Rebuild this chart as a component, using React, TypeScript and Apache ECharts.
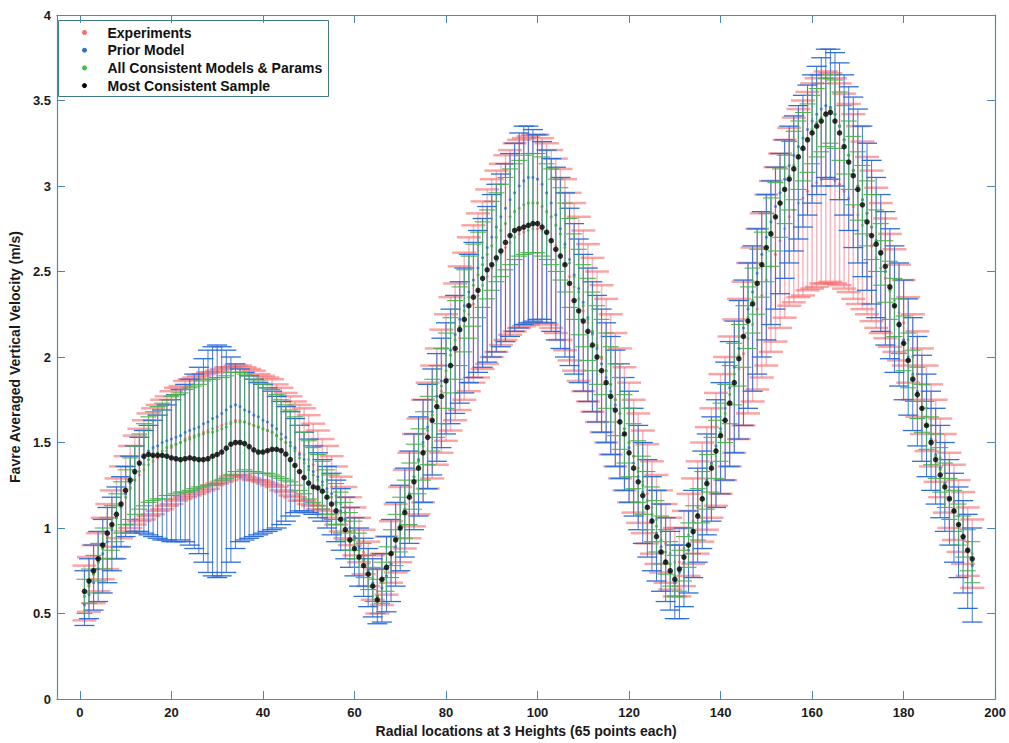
import React, { useEffect, useRef } from 'react';
import * as echarts from 'echarts';

// x positions are 1..195 (3 heights x 65 radial points)
const bestSample = [
  0.63,0.69,0.75,0.82,0.90,0.97,1.02,1.08,1.14,1.22,1.28,1.33,1.38,1.42,1.43,1.425,1.425,1.425,1.42,1.41,
  1.405,1.40,1.405,1.41,1.405,1.40,1.40,1.405,1.42,1.43,1.444,1.467,1.49,1.50,1.50,1.494,1.476,1.457,1.444,1.444,
  1.452,1.46,1.46,1.452,1.432,1.40,1.366,1.33,1.295,1.263,1.24,1.234,1.215,1.18,1.14,1.10,1.05,0.99,0.93,0.88,
  0.83,0.78,0.73,0.66,0.58,
  0.70,0.77,0.85,0.93,1.00,1.09,1.18,1.27,1.35,1.44,1.53,1.63,1.71,1.77,1.86,1.95,2.05,2.16,2.22,2.30,
  2.35,2.39,2.46,2.51,2.54,2.58,2.62,2.67,2.71,2.74,2.75,2.76,2.77,2.78,2.78,2.76,2.73,2.68,2.63,2.59,
  2.54,2.43,2.33,2.27,2.21,2.15,2.07,2.00,1.92,1.85,1.77,1.69,1.62,1.55,1.44,1.35,1.27,1.19,1.12,1.04,
  0.95,0.86,0.80,0.75,0.70,
  0.76,0.83,0.90,0.98,1.07,1.17,1.26,1.35,1.45,1.54,1.63,1.73,1.85,1.99,2.12,2.21,2.31,2.43,2.54,2.64,
  2.72,2.82,2.90,2.98,3.04,3.10,3.17,3.22,3.27,3.31,3.35,3.38,3.42,3.43,3.38,3.31,3.23,3.14,3.06,2.98,
  2.89,2.79,2.71,2.66,2.61,2.53,2.41,2.30,2.19,2.08,1.98,1.87,1.78,1.70,1.60,1.50,1.40,1.31,1.24,1.17,
  1.10,1.02,0.95,0.87,0.82,
];

const expMean = [
  0.62,0.67,0.73,0.80,0.88,0.95,1.02,1.09,1.15,1.20,1.24,1.28,1.31,1.34,1.37,1.39,1.41,1.43,1.45,1.47,
  1.49,1.50,1.52,1.53,1.54,1.55,1.56,1.57,1.58,1.59,1.60,1.61,1.62,1.63,1.63,1.62,1.61,1.60,1.59,1.58,
  1.57,1.56,1.54,1.52,1.50,1.48,1.46,1.44,1.43,1.40,1.37,1.34,1.31,1.28,1.24,1.19,1.14,1.09,1.04,0.98,
  0.93,0.86,0.79,0.71,0.63,
  0.70,0.78,0.86,0.94,1.02,1.11,1.19,1.28,1.36,1.45,1.54,1.62,1.71,1.80,1.88,1.96,2.03,2.11,2.18,2.25,
  2.31,2.36,2.42,2.47,2.52,2.56,2.60,2.64,2.67,2.70,2.72,2.73,2.74,2.75,2.75,2.74,2.72,2.69,2.65,2.60,
  2.54,2.47,2.41,2.34,2.27,2.20,2.13,2.06,1.99,1.92,1.84,1.75,1.67,1.58,1.50,1.42,1.35,1.27,1.20,1.12,
  1.05,0.98,0.91,0.85,0.80,
  0.80,0.88,0.96,1.04,1.12,1.21,1.29,1.38,1.46,1.55,1.64,1.74,1.83,1.93,2.02,2.11,2.19,2.28,2.36,2.45,
  2.53,2.60,2.68,2.75,2.82,2.86,2.90,2.93,2.97,3.00,3.02,3.04,3.05,3.05,3.03,3.01,2.97,2.93,2.88,2.83,
  2.77,2.71,2.65,2.58,2.52,2.46,2.39,2.33,2.26,2.20,2.10,2.00,1.90,1.80,1.70,1.60,1.51,1.41,1.32,1.22,
  1.15,1.07,1.00,0.92,0.85,
];

const expErr = [
  0.16,0.16,0.17,0.17,0.18,0.19,0.20,0.20,0.21,0.22,0.24,0.26,0.27,0.29,0.30,0.31,0.31,0.32,0.32,0.33,
  0.33,0.33,0.34,0.34,0.34,0.34,0.34,0.34,0.33,0.33,0.33,0.33,0.32,0.32,0.32,0.32,0.32,0.32,0.31,0.31,
  0.31,0.31,0.30,0.30,0.29,0.29,0.28,0.28,0.27,0.26,0.24,0.23,0.21,0.20,0.18,0.17,0.16,0.15,0.14,0.14,
  0.13,0.13,0.13,0.13,0.13,
  0.15,0.17,0.18,0.20,0.22,0.23,0.25,0.27,0.28,0.30,0.31,0.33,0.34,0.36,0.37,0.39,0.40,0.42,0.43,0.45,
  0.46,0.48,0.49,0.51,0.52,0.53,0.53,0.54,0.54,0.55,0.55,0.55,0.55,0.55,0.55,0.54,0.53,0.52,0.51,0.50,
  0.50,0.49,0.49,0.48,0.47,0.46,0.45,0.44,0.43,0.42,0.41,0.39,0.38,0.36,0.35,0.33,0.32,0.30,0.29,0.27,
  0.26,0.24,0.23,0.21,0.20,
  0.20,0.22,0.24,0.25,0.27,0.29,0.30,0.32,0.33,0.35,0.36,0.38,0.39,0.41,0.42,0.44,0.45,0.47,0.48,0.50,
  0.50,0.51,0.51,0.52,0.52,0.54,0.55,0.57,0.58,0.60,0.61,0.61,0.62,0.61,0.60,0.59,0.57,0.55,0.54,0.52,
  0.49,0.46,0.44,0.41,0.38,0.35,0.33,0.30,0.28,0.25,0.25,0.25,0.25,0.25,0.25,0.24,0.24,0.23,0.23,0.22,
  0.22,0.21,0.21,0.20,0.20,
];

const priorMean = [
  0.55,0.61,0.68,0.76,0.85,0.92,0.99,1.06,1.13,1.20,1.26,1.32,1.37,1.41,1.45,1.47,1.48,1.50,1.51,1.52,
  1.53,1.54,1.56,1.57,1.58,1.59,1.61,1.62,1.64,1.65,1.67,1.69,1.71,1.72,1.71,1.69,1.68,1.66,1.65,1.63,
  1.62,1.60,1.58,1.55,1.53,1.50,1.47,1.43,1.40,1.36,1.33,1.30,1.27,1.23,1.20,1.15,1.10,1.05,1.00,0.95,
  0.89,0.82,0.75,0.68,0.60,
  0.65,0.72,0.79,0.89,1.00,1.10,1.20,1.30,1.40,1.50,1.59,1.68,1.77,1.86,1.95,2.04,2.13,2.22,2.30,2.38,
  2.45,2.52,2.58,2.64,2.70,2.76,2.82,2.87,2.92,2.96,3.00,3.03,3.05,3.05,3.04,3.01,2.96,2.90,2.83,2.75,
  2.66,2.57,2.48,2.40,2.32,2.23,2.14,2.05,1.96,1.88,1.80,1.72,1.63,1.55,1.47,1.38,1.30,1.21,1.13,1.05,
  0.97,0.89,0.81,0.74,0.68,
  0.74,0.80,0.87,0.97,1.08,1.18,1.28,1.38,1.48,1.58,1.70,1.82,1.94,2.05,2.17,2.28,2.38,2.49,2.60,2.70,
  2.79,2.88,2.96,3.04,3.12,3.18,3.23,3.28,3.33,3.38,3.42,3.45,3.47,3.46,3.42,3.35,3.27,3.18,3.09,3.00,
  2.92,2.84,2.76,2.68,2.60,2.50,2.40,2.30,2.20,2.10,2.00,1.90,1.80,1.70,1.60,1.52,1.43,1.35,1.26,1.18,
  1.10,1.02,0.94,0.86,0.78,
];

const priorLow = [
  0.43,0.47,0.52,0.57,0.62,0.68,0.75,0.82,0.89,0.95,0.97,0.98,0.98,0.97,0.96,0.95,0.94,0.93,0.93,0.92,
  0.92,0.93,0.92,0.90,0.88,0.85,0.80,0.74,0.72,0.71,0.72,0.74,0.80,0.88,0.92,0.93,0.94,0.95,0.96,0.97,
  0.98,0.99,1.00,1.02,1.04,1.07,1.09,1.10,1.10,1.09,1.08,1.06,1.04,1.00,0.96,0.92,0.87,0.82,0.77,0.72,
  0.66,0.60,0.54,0.48,0.44,
  0.45,0.51,0.57,0.66,0.75,0.83,0.91,0.99,1.07,1.15,1.23,1.31,1.39,1.47,1.55,1.61,1.67,1.73,1.79,1.85,
  1.88,1.91,1.94,1.97,2.00,2.03,2.06,2.09,2.12,2.15,2.17,2.19,2.20,2.21,2.22,2.22,2.20,2.15,2.10,2.05,
  2.00,1.95,1.90,1.85,1.80,1.74,1.68,1.62,1.56,1.50,1.43,1.36,1.29,1.22,1.15,1.07,0.99,0.91,0.83,0.75,
  0.69,0.63,0.57,0.52,0.47,
  0.47,0.54,0.62,0.71,0.80,0.88,0.96,1.04,1.12,1.20,1.28,1.36,1.44,1.52,1.60,1.70,1.80,1.90,2.00,2.10,
  2.19,2.28,2.37,2.46,2.55,2.62,2.69,2.76,2.83,2.90,2.95,3.00,3.05,3.04,3.00,2.92,2.83,2.74,2.64,2.55,
  2.47,2.39,2.31,2.23,2.15,2.07,1.99,1.91,1.83,1.75,1.66,1.57,1.48,1.39,1.30,1.22,1.14,1.06,0.98,0.90,
  0.80,0.71,0.62,0.53,0.45,
];

const priorHigh = [
  0.75,0.82,0.90,0.98,1.05,1.12,1.18,1.24,1.30,1.36,1.42,1.48,1.53,1.57,1.60,1.63,1.66,1.69,1.72,1.75,
  1.78,1.81,1.84,1.87,1.90,1.94,1.99,2.04,2.06,2.07,2.06,2.04,2.00,1.96,1.93,1.91,1.89,1.87,1.85,1.84,
  1.82,1.80,1.77,1.74,1.71,1.68,1.64,1.60,1.56,1.52,1.48,1.44,1.40,1.36,1.32,1.28,1.23,1.18,1.12,1.06,
  1.00,0.94,0.88,0.82,0.76,
  0.85,0.95,1.05,1.15,1.25,1.35,1.45,1.55,1.65,1.75,1.84,1.93,2.02,2.11,2.20,2.28,2.36,2.44,2.52,2.60,
  2.67,2.74,2.81,2.88,2.95,3.01,3.07,3.13,3.19,3.25,3.31,3.35,3.35,3.33,3.30,3.26,3.21,3.16,3.11,3.05,
  2.96,2.87,2.78,2.69,2.60,2.52,2.44,2.36,2.28,2.20,2.12,2.04,1.96,1.88,1.80,1.70,1.60,1.50,1.40,1.30,
  1.22,1.14,1.06,0.98,0.90,
  0.90,1.00,1.10,1.22,1.35,1.45,1.55,1.65,1.75,1.85,1.97,2.09,2.21,2.33,2.45,2.55,2.65,2.75,2.85,2.95,
  3.03,3.11,3.19,3.27,3.35,3.41,3.47,3.53,3.59,3.65,3.70,3.75,3.80,3.80,3.78,3.72,3.65,3.58,3.52,3.45,
  3.35,3.25,3.15,3.05,2.95,2.85,2.75,2.65,2.55,2.45,2.34,2.23,2.12,2.01,1.90,1.80,1.70,1.60,1.50,1.40,
  1.32,1.24,1.16,1.08,1.00,
];

const consMean = [
  0.60,0.66,0.73,0.80,0.88,0.94,1.00,1.06,1.12,1.18,1.23,1.28,1.33,1.37,1.40,1.42,1.44,1.45,1.47,1.48,
  1.49,1.50,1.51,1.52,1.53,1.54,1.55,1.56,1.56,1.57,1.58,1.59,1.61,1.62,1.62,1.62,1.61,1.60,1.59,1.58,
  1.57,1.56,1.54,1.52,1.50,1.48,1.45,1.41,1.38,1.34,1.31,1.28,1.25,1.21,1.18,1.14,1.09,1.04,0.98,0.93,
  0.87,0.81,0.74,0.67,0.60,
  0.68,0.76,0.85,0.93,1.02,1.11,1.20,1.30,1.39,1.48,1.57,1.66,1.74,1.83,1.92,2.01,2.10,2.18,2.27,2.35,
  2.42,2.48,2.54,2.60,2.65,2.70,2.74,2.78,2.82,2.85,2.87,2.89,2.90,2.90,2.90,2.88,2.85,2.82,2.77,2.72,
  2.64,2.55,2.47,2.38,2.30,2.22,2.15,2.07,2.00,1.92,1.84,1.75,1.67,1.58,1.50,1.42,1.33,1.25,1.16,1.08,
  1.01,0.93,0.86,0.79,0.72,
  0.75,0.82,0.90,0.99,1.08,1.18,1.27,1.37,1.46,1.56,1.67,1.78,1.90,2.01,2.12,2.23,2.33,2.44,2.54,2.64,
  2.73,2.82,2.90,2.98,3.06,3.12,3.18,3.23,3.28,3.33,3.37,3.40,3.43,3.45,3.42,3.35,3.27,3.18,3.09,3.00,
  2.92,2.84,2.76,2.68,2.60,2.50,2.39,2.29,2.18,2.08,1.98,1.89,1.79,1.70,1.60,1.51,1.42,1.34,1.25,1.17,
  1.10,1.02,0.95,0.87,0.80,
];

const consErr = [
  0.10,0.10,0.11,0.11,0.12,0.12,0.13,0.14,0.15,0.16,0.18,0.20,0.22,0.24,0.25,0.26,0.27,0.28,0.28,0.29,
  0.29,0.29,0.30,0.30,0.30,0.30,0.31,0.31,0.31,0.31,0.30,0.30,0.30,0.29,0.29,0.28,0.28,0.27,0.27,0.26,
  0.25,0.25,0.24,0.23,0.22,0.21,0.20,0.19,0.18,0.17,0.16,0.15,0.14,0.13,0.13,0.12,0.12,0.11,0.11,0.11,
  0.10,0.10,0.10,0.10,0.10,
  0.12,0.13,0.14,0.15,0.16,0.17,0.18,0.19,0.19,0.20,0.20,0.21,0.21,0.22,0.22,0.22,0.23,0.23,0.24,0.24,
  0.24,0.25,0.25,0.26,0.26,0.26,0.27,0.27,0.28,0.28,0.28,0.29,0.29,0.29,0.29,0.29,0.28,0.28,0.27,0.27,
  0.26,0.26,0.25,0.25,0.24,0.24,0.23,0.23,0.22,0.22,0.22,0.21,0.21,0.20,0.20,0.19,0.18,0.17,0.17,0.16,
  0.15,0.14,0.13,0.13,0.12,
  0.12,0.13,0.13,0.14,0.15,0.15,0.16,0.16,0.17,0.17,0.17,0.17,0.18,0.18,0.18,0.18,0.19,0.19,0.19,0.20,
  0.20,0.20,0.20,0.20,0.20,0.20,0.20,0.20,0.20,0.20,0.20,0.20,0.20,0.20,0.20,0.20,0.20,0.20,0.20,0.20,
  0.20,0.19,0.19,0.18,0.18,0.18,0.17,0.17,0.16,0.16,0.16,0.15,0.15,0.14,0.14,0.14,0.13,0.13,0.13,0.12,
  0.12,0.12,0.12,0.12,0.12,
];

const xTicks = [0, 20, 40, 60, 80, 100, 120, 140, 160, 180, 200];
const legendNames = ['Experiments', 'Prior Model', 'All Consistent Models & Params', 'Most Consistent Sample'];
const legendColors = ['#ff6a6a', '#2f6fd6', '#3fbf4a', '#000000'];

const FONT = '"Liberation Sans", Arial, Helvetica, sans-serif';
const FRAME = '#5b8c98';
const TICK = '#4a86b8';

function barRenderer(vColor: string, capColor: string, half: number, lw: number, capLw: number) {
  return (params: any, api: any) => {
    const x = api.value(0);
    const lo = api.coord([x, api.value(1)]);
    const hi = api.coord([x, api.value(2)]);
    return {
      type: 'group',
      children: [
        { type: 'line', shape: { x1: lo[0], y1: lo[1], x2: hi[0], y2: hi[1] }, style: { stroke: vColor, lineWidth: lw } },
        { type: 'line', shape: { x1: lo[0] - half, y1: lo[1], x2: lo[0] + half, y2: lo[1] }, style: { stroke: capColor, lineWidth: capLw } },
        { type: 'line', shape: { x1: hi[0] - half, y1: hi[1], x2: hi[0] + half, y2: hi[1] }, style: { stroke: capColor, lineWidth: capLw } },
      ],
    };
  };
}

export default function App() {
  const ref = useRef<HTMLDivElement>(null);
  useEffect(() => {
    if (!ref.current) return;
    const chart = echarts.init(ref.current, undefined, { renderer: 'svg' });
    const xs = bestSample.map((_, i) => i + 1);
    const expBars = xs.map((x, i) => [x, expMean[i] - expErr[i], expMean[i] + expErr[i]]);
    const priorBars = xs.map((x, i) => [x, priorLow[i], priorHigh[i]]);
    const consBars = xs.map((x, i) => [x, consMean[i] - consErr[i], consMean[i] + consErr[i]]);
    const pts = (arr: number[]) => xs.map((x, i) => [x, arr[i]]);

    const labelStyle = { color: '#1a1a1a', fontWeight: 'bold' as const, fontSize: 13, fontFamily: FONT };
    const xBase = {
      type: 'value' as const, min: -5, max: 200,
      splitLine: { show: false },
      axisLine: { show: true, onZero: false, lineStyle: { color: FRAME, width: 1.2 } },
      axisTick: { show: true, inside: true, length: 8, customValues: xTicks, lineStyle: { color: TICK } },
    };
    const yBase = {
      type: 'value' as const, min: 0, max: 4, interval: 0.5,
      splitLine: { show: false },
      axisLine: { show: true, onZero: false, lineStyle: { color: FRAME, width: 1.2 } },
      axisTick: { show: true, inside: true, length: 8, lineStyle: { color: TICK } },
    };

    chart.setOption({
      animation: false,
      backgroundColor: '#ffffff',
      grid: { left: 52, right: 12, top: 15, bottom: 41, containLabel: false },
      xAxis: [
        {
          ...xBase, position: 'bottom',
          axisLabel: { ...labelStyle, customValues: xTicks, margin: 7 },
          name: 'Radial locations at 3 Heights (65 points each)',
          nameLocation: 'middle', nameGap: 25,
          nameTextStyle: { ...labelStyle, fontSize: 14 },
        },
        { ...xBase, position: 'top', axisLabel: { show: false } },
      ],
      yAxis: [
        {
          ...yBase, position: 'left',
          axisLabel: { ...labelStyle, margin: 6 },
          name: 'Favre Averaged Vertical Velocity (m/s)',
          nameLocation: 'middle', nameGap: 27, nameRotate: 90,
          nameTextStyle: { ...labelStyle, fontSize: 14 },
        },
        { ...yBase, position: 'right', axisLabel: { show: false } },
      ],
      series: [
        {
          name: 'Experiments', type: 'custom', silent: true, z: 1, clip: true,
          renderItem: barRenderer('rgba(240,120,140,0.55)', 'rgba(246,105,105,0.6)', 12, 1.5, 2.5),
          encode: { x: 0, y: [1, 2] }, data: expBars,
        },
        {
          name: 'Experiments pts', type: 'scatter', silent: true, z: 1,
          symbolSize: 3, itemStyle: { color: '#ff6a6a' }, data: pts(expMean),
        },
        {
          name: 'Prior Model', type: 'custom', silent: true, z: 2, clip: true,
          renderItem: barRenderer('rgba(45,105,215,0.9)', '#2f6fd6', 10, 1, 1.3),
          encode: { x: 0, y: [1, 2] }, data: priorBars,
        },
        {
          name: 'All Consistent Models & Params', type: 'custom', silent: true, z: 3, clip: true,
          renderItem: barRenderer('rgba(80,180,80,0.85)', 'rgba(70,176,74,0.95)', 8, 0.9, 1.1),
          encode: { x: 0, y: [1, 2] }, data: consBars,
        },
        {
          name: 'Prior pts', type: 'scatter', silent: true, z: 4,
          symbolSize: 3, itemStyle: { color: '#2a6bd1' }, data: pts(priorMean),
        },
        {
          name: 'Consistent pts', type: 'scatter', silent: true, z: 4,
          symbolSize: 3, itemStyle: { color: '#3aaa3a' }, data: pts(consMean),
        },
        {
          name: 'Most Consistent Sample', type: 'scatter', silent: true, z: 5,
          symbolSize: 5.5, itemStyle: { color: '#000000' }, data: pts(bestSample),
        },
      ],
      graphic: [
        {
          type: 'group', left: 58, top: 20, z: 100,
          children: [
            { type: 'rect', shape: { x: 0, y: 0, width: 270, height: 76 }, style: { fill: '#ffffff', stroke: '#3f7a88', lineWidth: 1 } },
            ...legendNames.flatMap((n, i) => [
              { type: 'circle', shape: { cx: 26, cy: 12 + i * 17.7, r: 2.5 }, style: { fill: legendColors[i] } },
              {
                type: 'text', x: 49, y: 12 + i * 17.7,
                style: { text: n, fill: '#111', font: `bold 14px ${FONT}`, textVerticalAlign: 'middle', textAlign: 'left' },
              },
            ]),
          ],
        },
      ],
    });
    return () => chart.dispose();
  }, []);
  return <div ref={ref} style={{ position: 'absolute', left: 0, top: 0, width: 1009, height: 743 }} />;
}
